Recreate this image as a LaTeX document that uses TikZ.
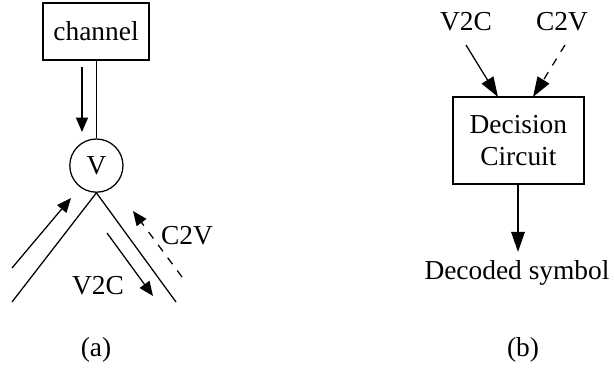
\documentclass[tikz,border=0pt]{standalone}
\usepackage{fontspec}
\setmainfont{Liberation Serif}
\usetikzlibrary{arrows.meta, positioning, calc}

\begin{document}
\begin{tikzpicture}[
    line width=0.9pt,
    every node/.style={font=\fontsize{19.5}{23}\selectfont},
    block/.style={draw, minimum width=#1, minimum height=1.425cm, align=center, inner sep=2pt},
    varnode/.style={draw, circle, minimum size=1.33cm, inner sep=0pt},
    arrow/.style={-{Triangle[length=3.6mm, width=3mm]}},
    bigarrow/.style={-{Triangle[length=5mm, width=3.4mm]}},
    dashed pattern/.style={dash pattern=on 0.2cm off 0.2cm},
]
\useasboundingbox (0,0) rectangle (15.35,-9.35);

% (a) variable node
\node[block=2.65cm] (chan) at (2.4, -0.79) {channel};
\node[varnode] (var) at (2.41, -4.14) {V};
\coordinate (leftend) at (0.3, -7.55);
\coordinate (rightend) at (4.4, -7.55);
\draw (chan.south -| var) -- (var.north);
\draw (var.south) -- (leftend);
\draw (var.south) -- (rightend);

\coordinate (inA) at (2.05, -1.675);
\coordinate (inB) at (2.05, -3.3);
\coordinate (upA) at (0.3, -6.7);
\coordinate (upB) at (1.775, -4.95);
\coordinate (downA) at (2.675, -5.825);
\coordinate (downB) at (3.825, -7.4);
\coordinate (c2vA) at (4.55, -6.925);
\coordinate (c2vB) at (3.325, -5.275);
\draw[arrow] (inA) -- (inB);
\draw[arrow] (upA) -- (upB);
\draw[arrow] (downA) -- (downB);
\draw[arrow, dashed pattern] (c2vA) -- (c2vB);
\node (c2va) at (4.675, -5.9) {C2V};
\node (v2ca) at (2.45, -7.15) {V2C};
\node (capa) at (2.4, -8.75) {(a)};

% (b) decision circuit
\node (v2cb) at (11.65, -0.55) {V2C};
\node (c2vb) at (14.05, -0.55) {C2V};
\node[block=3.275cm, minimum height=2.175cm] (dec) at (12.96, -3.51) {Decision\\Circuit};
\node[inner sep=0.2cm] (sym) at (12.925, -6.825) {Decoded symbol};
\coordinate (v2cin) at (12.45, -2.425);
\coordinate (c2vin) at (13.325, -2.425);
\draw[bigarrow] (11.65, -1.125) -- (v2cin);
\draw[bigarrow, dashed pattern] (14.125, -1.125) -- (c2vin);
\draw[bigarrow] (dec.south -| 12.95, 0) -- (sym.north -| 12.95, 0);
\node (capb) at (13.075, -8.75) {(b)};

\end{tikzpicture}
\end{document}
